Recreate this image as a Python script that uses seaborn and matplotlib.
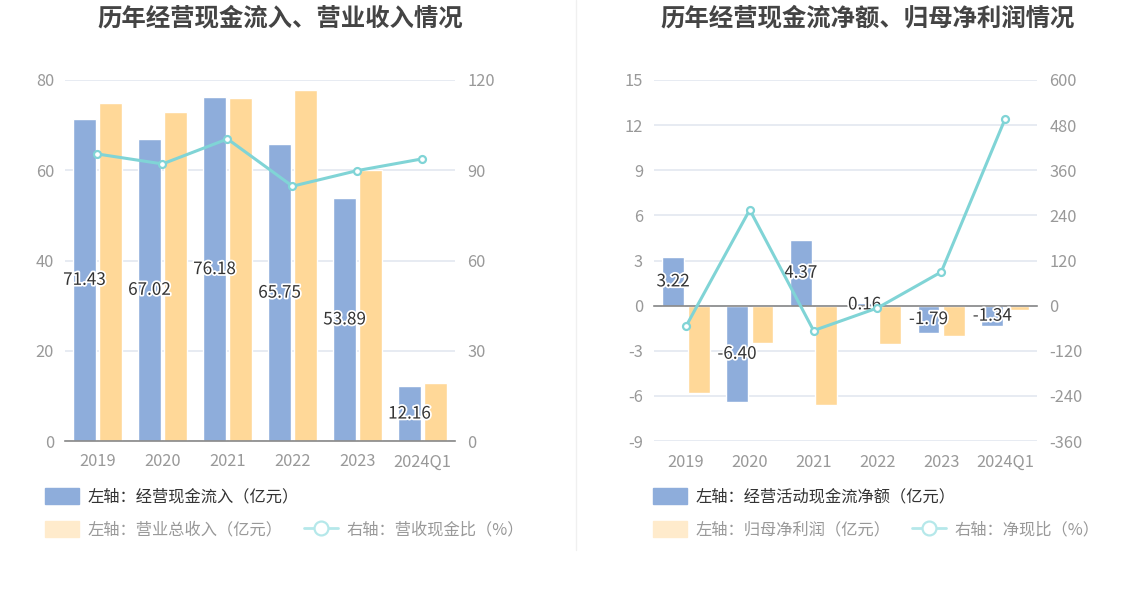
import matplotlib
matplotlib.use("Agg")
import matplotlib.pyplot as plt
import matplotlib.patheffects as pe
from matplotlib.patches import Patch
from matplotlib.lines import Line2D
import seaborn as sns
import pandas as pd

sns.set_theme(style="white")
plt.rcParams['font.family'] = ['Noto Sans CJK SC', 'DejaVu Sans']
plt.rcParams['axes.unicode_minus'] = False

categories = ["2019", "2020", "2021", "2022", "2023", "2024Q1"]

# left chart
cash_inflow = [71.43, 67.02, 76.18, 65.75, 53.89, 12.16]
revenue = [75.0, 72.8, 76.0, 77.7, 60.0, 12.95]
inflow_ratio = [95.4, 92.1, 100.4, 84.7, 89.9, 93.8]

# right chart
net_cash = [3.22, -6.40, 4.37, 0.16, -1.79, -1.34]
net_profit = [-5.82, -2.51, -6.58, -2.55, -2.00, -0.27]
net_ratio = [-55.3, 254.9, -66.4, -6.3, 89.5, 496.3]

BLUE = "#8eaddb"
ORANGE = "#ffd898"
TEAL = "#80d4d6"
GRID = "#e3e7f0"
TICK = "#999999"
AXIS = "#888888"
TEXT = "#333333"
TICK_FS = 11.8

W, H = 1148, 589
fig = plt.figure(figsize=(W / 100, H / 100), dpi=100)


def px_axes(x0, x1, ytop, ybot):
    return fig.add_axes([x0 / W, 1 - ybot / H, (x1 - x0) / W, (ybot - ytop) / H])


def draw_panel(ax, bar1, bar2, ratio, names, ylim, yticks, y2lim, y2ticks, zero_axis):
    df = pd.DataFrame({
        "cat": categories * 2,
        "series": [names[0]] * len(categories) + [names[1]] * len(categories),
        "val": list(bar1) + list(bar2),
    })
    sns.barplot(data=df, x="cat", y="val", hue="series", order=categories,
                hue_order=names, palette=[BLUE, ORANGE], width=0.8, gap=0.15,
                saturation=1, legend=False, ax=ax, zorder=2)
    ax.set_xlim(-0.5, len(categories) - 0.5)
    ax.set_ylim(*ylim)
    ax.set_yticks(yticks)
    ax.set_yticklabels([str(t) for t in yticks])
    ax.set_xlabel("")
    ax.set_ylabel("")
    for s in ["left", "right", "top"]:
        ax.spines[s].set_visible(False)
    ax.spines["bottom"].set_color(AXIS)
    ax.spines["bottom"].set_linewidth(1.2)
    ax.grid(axis="y", color=GRID, linewidth=1.2, zorder=0)
    ax.grid(axis="x", visible=False)
    ax.tick_params(axis="y", length=0, pad=8, labelsize=TICK_FS, labelcolor=TICK)
    if zero_axis:
        ax.spines["bottom"].set_position(("data", 0))
        ax.tick_params(axis="x", direction="out", length=4, width=1, color=AXIS,
                       labelsize=TICK_FS, labelcolor=TICK, pad=103)
    else:
        ax.tick_params(axis="x", direction="out", length=4, width=1, color=AXIS,
                       labelsize=TICK_FS, labelcolor=TICK, pad=5)
    ax.set_axisbelow(True)

    labels = ax.bar_label(ax.containers[0], fmt="%.2f", label_type="center",
                          fontsize=12.3, color=TEXT, zorder=5)
    for t in labels:
        t.set_path_effects([pe.withStroke(linewidth=2.5, foreground="white")])

    ax2 = ax.twinx()
    sns.pointplot(x=categories, y=ratio, order=categories, color=TEAL, ax=ax2,
                  markers="o", markersize=5, markerfacecolor="white",
                  markeredgecolor=TEAL, markeredgewidth=1.6, linewidth=2.2,
                  zorder=4)
    ax2.set_xlim(-0.5, len(categories) - 0.5)
    ax2.set_ylim(*y2lim)
    ax2.set_yticks(y2ticks)
    ax2.set_yticklabels([str(t) for t in y2ticks])
    for s in ["left", "right", "top", "bottom"]:
        ax2.spines[s].set_visible(False)
    ax2.grid(False)
    ax2.set_ylabel("")
    ax2.tick_params(axis="y", length=0, pad=9, labelsize=TICK_FS, labelcolor=TICK)
    return ax2


# left panel
axL = px_axes(65, 455, 80, 441)
draw_panel(axL, cash_inflow, revenue, inflow_ratio,
           ["经营现金流入", "营业总收入"], (0, 80), [0, 20, 40, 60, 80],
           (0, 120), [0, 30, 60, 90, 120], zero_axis=False)

# right panel
axR = px_axes(654, 1037, 80, 441)
draw_panel(axR, net_cash, net_profit, net_ratio,
           ["经营活动现金流净额", "归母净利润"], (-9, 15), [-9, -6, -3, 0, 3, 6, 9, 12, 15],
           (-360, 600), [-360, -240, -120, 0, 120, 240, 360, 480, 600], zero_axis=True)

# titles
fig.text(280 / W, 1 - 18 / H, "历年经营现金流入、营业收入情况", ha="center", va="center",
         fontsize=17.6, fontweight="bold", color="#444444")
fig.text(868 / W, 1 - 18 / H, "历年经营现金流净额、归母净利润情况", ha="center", va="center",
         fontsize=17.6, fontweight="bold", color="#444444")

# divider
fig.add_artist(Line2D([576 / W, 576 / W], [1 - 550 / H, 1], transform=fig.transFigure,
                      color="#f0f0f0", linewidth=1))

# legends
FADED_ORANGE = "#ffebcc"
FADED_TEAL = "#b5e8ea"


def add_legends(x0, text1, text2, text3):
    common = dict(frameon=False, fontsize=11.7, handlelength=2.1, handleheight=1.1,
                  handletextpad=0.5, borderpad=0, borderaxespad=0,
                  loc="center left", bbox_transform=fig.transFigure)
    l1 = fig.legend(handles=[Patch(facecolor=BLUE, edgecolor=BLUE)], labels=[text1],
                    bbox_to_anchor=(x0 / W, 1 - 497 / H), **common)
    for t in l1.get_texts():
        t.set_color(TEXT)
    h2 = [Patch(facecolor=FADED_ORANGE, edgecolor=FADED_ORANGE),
          Line2D([], [], color=FADED_TEAL, linewidth=2, marker="o", markersize=10,
                 markerfacecolor="white", markeredgecolor=FADED_TEAL, markeredgewidth=1.6)]
    l2 = fig.legend(handles=h2, labels=[text2, text3], ncol=2, columnspacing=1.35,
                    bbox_to_anchor=(x0 / W, 1 - 530 / H), **common)
    for t in l2.get_texts():
        t.set_color(TICK)


add_legends(45, "左轴：经营现金流入（亿元）", "左轴：营业总收入（亿元）", "右轴：营收现金比（%）")
add_legends(653, "左轴：经营活动现金流净额（亿元）", "左轴：归母净利润（亿元）", "右轴：净现比（%）")

fig.savefig("out.png", dpi=100, facecolor="white")
